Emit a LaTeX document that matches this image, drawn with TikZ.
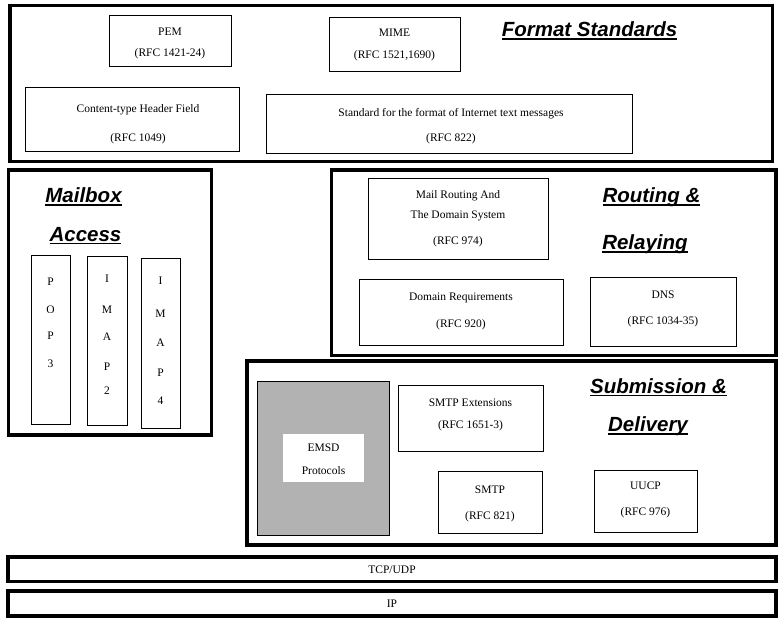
\documentclass[tikz,border=0pt]{standalone}
\usepackage{fontspec}
\setmainfont{Liberation Serif}
\newfontfamily\titlefont{Liberation Sans}
\usetikzlibrary{fit}
\newcommand\ulx[1]{\setbox0\hbox{#1}\rlap{\rule[-3pt]{\wd0}{1.5pt}}\box0}
\definecolor{emsdgray}{gray}{0.70}
\begin{document}
\begin{tikzpicture}[x=1pt,y=-1pt,
  thickbox/.style={draw, line width=3.5pt, inner sep=0pt},
  thinbox/.style={draw, line width=0.9pt, inner sep=0pt},
  txt/.style={anchor=base, inner sep=0pt, font=\fontsize{11.5}{13}\selectfont},
  ttl/.style={anchor=base, inner sep=0pt, font=\titlefont\bfseries\itshape\fontsize{20.5}{24}\selectfont}]
\useasboundingbox (0,0) rectangle (779,620);
% thick group boxes
\node[thickbox, fit={(10,5.7)(772.5,161.3)}] (fmt) {};
\node[thickbox, fit={(8.5,170)(211.3,435)}] (mbox) {};
\node[thickbox, fit={(331.3,170)(776,355.5)}] (rout) {};
\node[thickbox, fit={(247,361)(776,545)}] (sub) {};
\node[thickbox, fit={(8,557)(776,581.5)}] (tcp) {};
\node[thickbox, fit={(8,591)(776,616)}] (ip) {};
% thin boxes
\node[thinbox, fit={(109,15)(231,66)}] (pem) {};
\node[thinbox, fit={(329,17)(460,71)}] (mime) {};
\node[thinbox, fit={(25,87)(239,151)}] (ctype) {};
\node[thinbox, fit={(266,94)(632,153)}] (std) {};
\node[thinbox, fit={(31,255)(70,424)}] (pop3) {};
\node[thinbox, fit={(87,256)(127,425)}] (imap2) {};
\node[thinbox, fit={(141,258)(180,428)}] (imap4) {};
\node[thinbox, fit={(368,178)(548,259)}] (mailr) {};
\node[thinbox, fit={(359,279)(563,345)}] (domreq) {};
\node[thinbox, fit={(590,277)(736,346)}] (dns) {};
\node[thinbox, fill=emsdgray, fit={(257,381)(389,535)}] (emsd) {};
\node[fill=white, inner sep=0pt, fit={(283,434)(364,482)}] (emsdin) {};
\node[thinbox, fit={(398,385)(543,451)}] (smtpx) {};
\node[thinbox, fit={(438,471)(542,533)}] (smtp) {};
\node[thinbox, fit={(594,470)(697,532)}] (uucp) {};
% titles
\node[ttl] (tfmt) at (589.5,37) {\ulx{Format Standards}};
\node[ttl] (tmb1) at (83.5,203) {\ulx{Mailbox}};
\node[ttl] (tmb2) at (85.5,241.5) {\ulx{Access}};
\node[ttl] (trt1) at (651.5,203) {\ulx{Routing \&}};
\node[ttl] (trt2) at (645,250) {\ulx{Relaying}};
\node[ttl] (tsb1) at (658.5,393) {\ulx{Submission \&}};
\node[ttl] (tsb2) at (648,431.5) {\ulx{Delivery}};
% texts
\node[txt] (pem1) at (170,36) {PEM};
\node[txt] (pem2) at (170,57) {(RFC 1421-24)};
\node[txt] (mime1) at (394.5,37) {MIME};
\node[txt] (mime2) at (394.5,59) {(RFC 1521,1690)};
\node[txt] (ct1) at (138,113) {Content-type Header Field};
\node[txt] (ct2) at (138,142) {(RFC 1049)};
\node[txt] (st1) at (451,117) {Standard for the format of Internet text messages};
\node[txt] (st2) at (451,142) {(RFC 822)};
\node[txt] (mr1) at (458,199) {Mail Routing And};
\node[txt] (mr2) at (458,219) {The Domain System};
\node[txt] (mr3) at (458,245) {(RFC 974)};
\node[txt] (dr1) at (461,301) {Domain Requirements};
\node[txt] (dr2) at (461,327) {(RFC 920)};
\node[txt] (dn1) at (663,299) {DNS};
\node[txt] (dn2) at (663,324) {(RFC 1034-35)};
\node[txt] (em1) at (323.5,451) {EMSD};
\node[txt] (em2) at (323.5,474) {Protocols};
\node[txt] (sx1) at (470.5,406) {SMTP Extensions};
\node[txt] (sx2) at (470.5,428) {(RFC 1651-3)};
\node[txt] (sm1) at (490,493) {SMTP};
\node[txt] (sm2) at (490,519) {(RFC 821)};
\node[txt] (uu1) at (645.5,489) {UUCP};
\node[txt] (uu2) at (645.5,515) {(RFC 976)};
\node[txt] (tcpt) at (392,573) {TCP/UDP};
\node[txt] (ipt) at (392,607) {IP};
% vertical letters
\node[txt] (p1) at (50.5,286) {P};
\node[txt] (p2) at (50.5,313) {O};
\node[txt] (p3) at (50.5,339) {P};
\node[txt] (p4) at (50.5,367) {3};
\node[txt] (a1) at (107,283) {I};
\node[txt] (a2) at (107,313) {M};
\node[txt] (a3) at (107,341) {A};
\node[txt] (a4) at (107,370) {P};
\node[txt] (a5) at (107,394) {2};
\node[txt] (b1) at (160.5,285) {I};
\node[txt] (b2) at (160.5,317) {M};
\node[txt] (b3) at (160.5,346) {A};
\node[txt] (b4) at (160.5,376) {P};
\node[txt] (b5) at (160.5,404) {4};
\end{tikzpicture}
\end{document}
